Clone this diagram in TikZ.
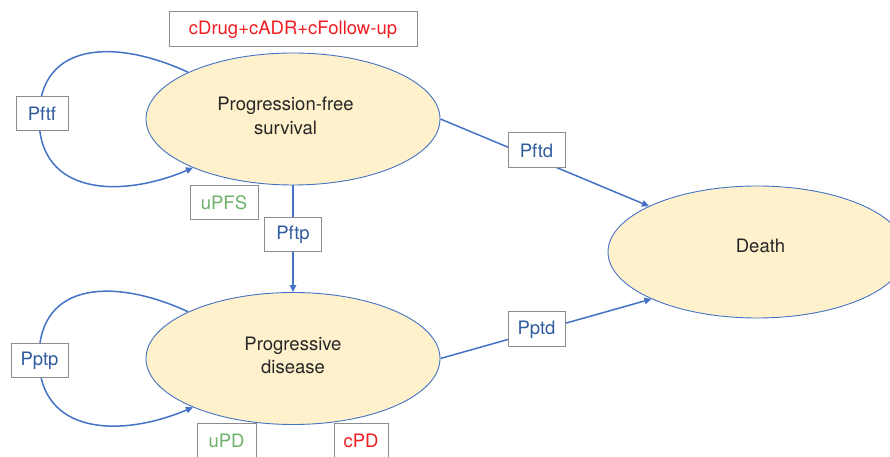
\documentclass[tikz,border=0pt]{standalone}
\usepackage{fontspec}
\setmainfont{TeX Gyre Heros}
\usetikzlibrary{shapes.geometric,arrows.meta}
\definecolor{lineblue}{HTML}{4472C4}
\definecolor{lblblue}{HTML}{2F5C9F}
\definecolor{lblred}{HTML}{F01E23}
\definecolor{lblgreen}{HTML}{6DB26A}
\definecolor{statefill}{HTML}{FFF1CC}
\definecolor{boxgray}{HTML}{8C8C8C}
\definecolor{txtdark}{HTML}{262626}
\tikzset{
  state/.style={ellipse, draw=lineblue, line width=0.9pt, fill=statefill, inner sep=0pt, minimum width=294pt, minimum height=132pt},
  statetext/.style={text=txtdark, font=\fontsize{18.5}{23.5}\selectfont, align=center, inner sep=0pt},
  lbl/.style={draw=boxgray, line width=1pt, fill=white, inner sep=0pt, minimum height=34pt, font=\fontsize{18.5}{22}\selectfont},
  conn/.style={draw=lineblue, line width=1.5pt},
  arr/.style={conn, -{Triangle[length=7pt,width=6.5pt]}}
}
\begin{document}
\begin{tikzpicture}[x=1pt,y=1pt]
\useasboundingbox (0,0) rectangle (890,457);
\clip (0,0) rectangle (890,457);
% states
\node[state] (pfs) at (293,338) {};
\node[state] (pd) at (293,98.5) {};
\node[state, minimum width=298pt] (death) at (757,205) {};
\node[statetext] (pfstxt) at (285.5,341) {Progression-free\\survival};
\node[statetext] (pdtxt) at (293,101.5) {Progressive\\disease};
\node[statetext] (deathtxt) at (760.5,211.5) {Death};
% loop turning points
\coordinate (pftfL) at (39,339);
\coordinate (pptpL) at (39,99.5);
% connectors
\draw[conn] (pfs.156) to[out=155,in=90,distance=78pt] (pftfL);
\draw[arr] (pftfL) to[out=-90,in=203,distance=78pt] (pfs.206);
\draw[conn] (pd.156) to[out=155,in=90,distance=78pt] (pptpL);
\draw[arr] (pptpL) to[out=-90,in=203,distance=78pt] (pd.206);
\draw[arr] (pfs.south) -- (pd.north);
\draw[arr] (pfs.east) -- (death.157);
\draw[arr] (pd.east) -- (death.204);
% labels
\node[lbl, minimum width=248pt, minimum height=35pt, text=lblred] (cost) at (293,427.5) {cDrug+cADR+cFollow-up};
\node[lbl, minimum width=52pt, text=lblblue] (pftf) at (42,343) {Pftf};
\node[lbl, minimum width=68pt, text=lblgreen] (upfs) at (224,254) {uPFS};
\node[lbl, minimum width=57pt, text=lblblue] (pftp) at (293,222) {Pftp};
\node[lbl, minimum width=57pt, text=lblblue] (pptp) at (39.5,96) {Pptp};
\node[lbl, minimum width=57pt, minimum height=35pt, text=lblblue] (pftd) at (536.5,306.5) {Pftd};
\node[lbl, minimum width=57pt, minimum height=35pt, text=lblblue] (pptd) at (536.5,127.5) {Pptd};
\node[lbl, minimum width=59pt, text=lblgreen] (upd) at (226.5,16) {uPD};
\node[lbl, minimum width=54pt, text=lblred] (cpd) at (361,16) {cPD};
\end{tikzpicture}
\end{document}
